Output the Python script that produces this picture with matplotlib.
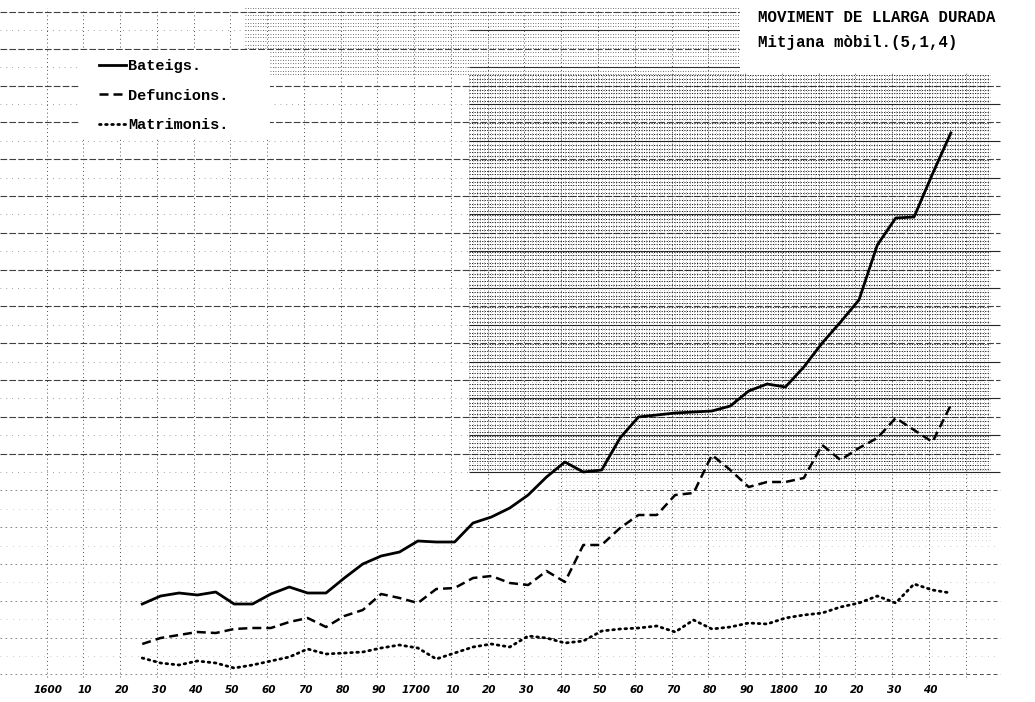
import matplotlib.pyplot as plt
from matplotlib.patches import Rectangle
import numpy as np

# moving averages every 5 years (arbitrary units)
years = np.arange(1627, 1848, 5)
bateigs = [98, 106, 109, 107, 110, 98, 98, 108, 115, 109, 109, 124, 138, 146, 150,
           161, 160, 160, 179, 185, 194, 207, 225, 240, 230, 232, 264, 285, 287, 289,
           290, 291, 296, 311, 318, 315, 335, 359, 380, 402, 457, 484, 485, 528, 569]
defuncions = [58, 64, 67, 70, 69, 73, 74, 74, 80, 84, 75, 86, 92, 108, 104,
              99, 113, 114, 124, 126, 119, 117, 131, 120, 157, 157, 174, 187, 187, 207,
              209, 247, 232, 215, 220, 220, 224, 257, 242, 254, 264, 284, 272, 260, 297]
matrimonis = [44, 39, 37, 41, 39, 34, 37, 41, 45, 53, 48, 49, 50, 54, 57,
              54, 43, 49, 55, 58, 55, 66, 64, 59, 61, 71, 73, 74, 76, 70,
              82, 73, 75, 79, 78, 84, 87, 89, 95, 99, 106, 99, 118, 112, 109]

tick_years = np.arange(1600, 1841, 10)
tick_labels = ['1600', '10', '20', '30', '40', '50', '60', '70', '80', '90',
               '1700', '10', '20', '30', '40', '50', '60', '70', '80', '90',
               '1800', '10', '20', '30', '40']

mono = 'Liberation Mono'

fig = plt.figure(figsize=(10.35, 7.02), dpi=100)
ax = fig.add_axes([0, 0, 1, 1])
ax.set_xlim(1588.3, 1869.9)
ax.set_ylim(0, 702)
ax.axis('off')

# graph paper
x0, x1, xm = 1588.3, 1860.4, 1716
rows = np.arange(690, 20, -18.4)
for k, v in enumerate(rows):
    if k % 2 == 0:
        if v > 230:
            ax.hlines(v, x0, x1, color='0.25', lw=0.8, linestyles=(0, (6, 2)), zorder=1)
        else:
            ax.hlines(v, x0, xm, color='0.45', lw=0.6, linestyles=(0, (2, 4)), zorder=1)
            ax.hlines(v, xm, x1, color='0.3', lw=0.7, linestyles=(0, (4, 3)), zorder=1)
    else:
        if v > 230:
            ax.hlines(v, xm, x1, color='0.15', lw=0.8, zorder=1)
            ax.hlines(v, x0, xm, color='0.5', lw=0.6, linestyles=(0, (1, 6)), zorder=1)
        else:
            ax.hlines(v, x0, x1, color='0.6', lw=0.5, linestyles=(0, (1, 8)), zorder=1)
for yr in np.arange(1601, 1861, 10):
    ax.vlines(yr, 25, 694, color='0.3', lw=0.7, linestyles=(0, (1, 3)), zorder=1)

# dense dotted texture of the paper (upper right)
for v in np.arange(627, 232, -3.68):
    ax.hlines(v, xm, 1857.7, color='0.1', lw=0.7, linestyles=(0, (1.2, 1.4)), zorder=1)
for yr in np.arange(xm, 1858, 1):
    ax.vlines(yr, 232, 627, color='0.3', lw=0.45, linestyles=(0, (1, 2.5)), zorder=1)
for v in np.arange(694, 627, -3.68):
    ax.hlines(v, 1655, 1790.5, color='0.25', lw=0.6, linestyles=(0, (1, 2)), zorder=1)
for v in np.arange(232, 160, -3.68):
    ax.hlines(v, 1740, 1857.7, color='0.55', lw=0.45, linestyles=(0, (1, 5)), zorder=1)

# white label patches
ax.add_patch(Rectangle((1610, 564), 51.8, 88, facecolor='white', edgecolor='none', zorder=2))
ax.add_patch(Rectangle((1789.7, 630), 90, 80, facecolor='white', edgecolor='none', zorder=2))
ax.add_patch(Rectangle((1580, 694), 300, 20, facecolor='white', edgecolor='none', zorder=2))

ax.plot(years, bateigs, color='black', lw=2.0, solid_joinstyle='round', zorder=3,
        label='Bateigs.')
ax.plot(years, defuncions, color='black', lw=1.8, dashes=(3.6, 2), zorder=3,
        label='Defuncions.')
ax.plot(years, matrimonis, color='black', lw=2.0, linestyle=(0, (0.6, 1.6)),
        dash_capstyle='round', zorder=3, label='Matrimonis.')

for yr, lab in zip(tick_years, tick_labels):
    ax.text(yr + 1.5, 12, lab, ha='center', va='center', fontsize=7.5,
            style='italic', fontweight='bold', zorder=4)

leg = ax.legend(loc='upper left', bbox_to_anchor=(0.082, 0.935), frameon=False,
                handlelength=1.8, handletextpad=0.15, labelspacing=1.0,
                prop={'family': mono, 'weight': 'bold', 'size': 11})
leg.set_zorder(5)

fig.text(758 / 1035, 1 - 17 / 702, 'MOVIMENT DE LLARGA DURADA', family=mono,
         weight='bold', fontsize=11.3, ha='left', va='center')
fig.text(758 / 1035, 1 - 43 / 702, 'Mitjana mòbil.(5,1,4)', family=mono,
         weight='bold', fontsize=11.3, ha='left', va='center')

plt.savefig('out.png', dpi=100)
